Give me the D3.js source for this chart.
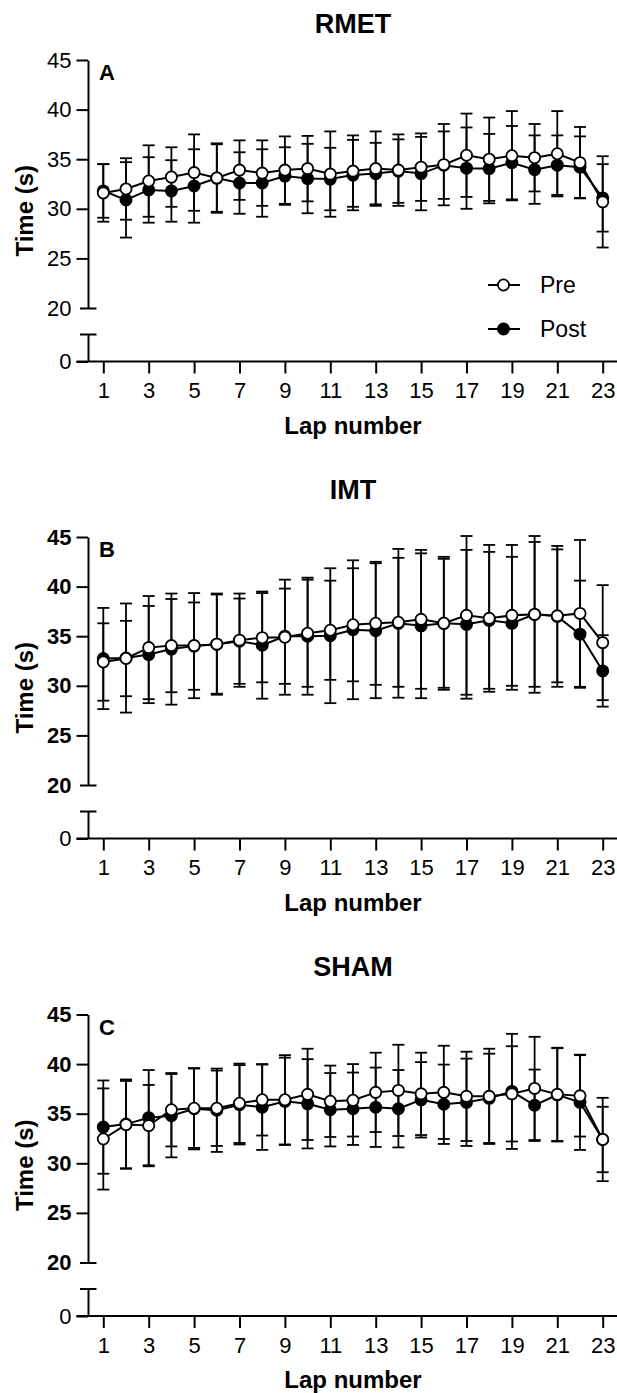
<!DOCTYPE html>
<html>
<head>
<meta charset="utf-8">
<script src="https://cdn.jsdelivr.net/npm/d3@7"></script>
<style>
  body { margin: 0; background: #fff; }
  svg { display: block; font-family: "Liberation Sans", Arial, sans-serif; }
</style>
</head>
<body>
<div id="chart"></div>
<script>
// lap numbers and x tick labels
const laps = d3.range(1, 24);
const lapTicks = [1, 3, 5, 7, 9, 11, 13, 15, 17, 19, 21, 23];
const upperTicks = [20, 25, 30, 35, 40, 45];

// RMET
const rmetPreMean  = [31.6, 32.0, 32.8, 33.2, 33.65, 33.1, 33.9, 33.6, 33.9, 34.05, 33.5, 33.8, 34.05, 33.9, 34.2, 34.45, 35.4, 35.0, 35.35, 35.15, 35.55, 34.65, 30.7];
const rmetPreSd    = [2.9, 3.1, 3.6, 3.0, 3.85, 3.5, 3.0, 3.3, 3.4, 3.3, 4.3, 3.6, 3.75, 3.6, 3.4, 4.1, 4.2, 4.2, 4.5, 3.4, 4.3, 3.6, 4.6];
const rmetPostMean = [31.8, 30.9, 31.9, 31.8, 32.3, 33.1, 32.6, 32.6, 33.3, 33.05, 33.0, 33.4, 33.55, 33.8, 33.55, 34.4, 34.1, 34.05, 34.65, 33.95, 34.4, 34.2, 31.1];
const rmetPostSd   = [2.7, 3.8, 3.3, 3.1, 3.7, 3.4, 3.1, 3.4, 2.9, 3.5, 3.15, 3.55, 3.1, 3.2, 3.7, 3.4, 4.1, 3.5, 3.7, 3.45, 3.0, 3.1, 3.4];

// IMT
const imtPreMean  = [32.4, 32.75, 33.85, 34.05, 34.05, 34.2, 34.6, 34.85, 34.9, 35.3, 35.6, 36.15, 36.3, 36.4, 36.7, 36.3, 37.1, 36.8, 37.1, 37.2, 37.05, 37.3, 34.35];
const imtPreSd    = [3.9, 3.8, 5.2, 4.7, 5.3, 5.0, 4.7, 4.5, 5.8, 5.4, 5.0, 5.7, 6.2, 6.5, 7.0, 6.5, 8.0, 7.4, 7.1, 7.3, 6.7, 7.4, 5.8];
const imtPostMean = [32.75, 32.8, 33.15, 33.7, 34.0, 34.2, 34.5, 34.1, 35.0, 35.0, 35.05, 35.65, 35.55, 36.3, 36.05, 36.3, 36.2, 36.6, 36.3, 37.2, 37.0, 35.2, 31.5];
const imtPostSd   = [5.1, 5.5, 4.9, 5.6, 4.4, 5.1, 4.3, 5.4, 4.8, 5.9, 6.8, 7.0, 6.8, 7.5, 7.3, 6.7, 7.5, 6.9, 6.7, 7.9, 7.1, 5.4, 3.6];

// SHAM
const shamPreMean  = [32.45, 33.9, 33.8, 35.4, 35.55, 35.55, 36.05, 36.4, 36.4, 36.95, 36.25, 36.35, 37.15, 37.35, 37.0, 37.15, 36.75, 36.75, 37.0, 37.55, 36.95, 36.8, 32.4];
const shamPreSd    = [5.1, 4.4, 4.1, 3.7, 4.0, 3.8, 4.0, 3.6, 4.5, 4.6, 3.6, 3.65, 4.0, 4.6, 4.15, 4.7, 4.5, 4.8, 4.8, 5.2, 4.7, 4.1, 4.2];
const shamPostMean = [33.65, 33.95, 34.6, 34.8, 35.5, 35.35, 35.9, 35.65, 36.25, 36.0, 35.4, 35.5, 35.65, 35.5, 36.4, 35.95, 36.15, 36.55, 37.25, 35.85, 36.9, 36.15, 32.4];
const shamPostSd   = [4.7, 4.5, 4.8, 4.2, 4.1, 4.2, 4.0, 4.3, 4.4, 4.5, 3.7, 3.65, 4.0, 3.9, 3.8, 4.0, 4.4, 4.5, 5.8, 3.6, 4.7, 4.8, 3.3];

const panels = [
  {title: "RMET", letter: "A", top: 60, titleY: 33, boldTicks: false, legend: true,
   pre: rmetPreMean, preSd: rmetPreSd, post: rmetPostMean, postSd: rmetPostSd},
  {title: "IMT", letter: "B", top: 537, titleY: 499, boldTicks: true, legend: false,
   pre: imtPreMean, preSd: imtPreSd, post: imtPostMean, postSd: imtPostSd},
  {title: "SHAM", letter: "C", top: 1014.5, titleY: 976, boldTicks: true, legend: false,
   pre: shamPreMean, preSd: shamPreSd, post: shamPostMean, postSd: shamPostSd}
];

const W = 617, H = 1393;
const axisX = 88;
const tickLen = 11.5;

const svg = d3.select("#chart").append("svg")
  .attr("width", W)
  .attr("height", H);

const x = d3.scaleLinear().domain([1, 23]).range([103.3, 602.7]);

panels.forEach(p => {
  const g = svg.append("g");
  const yUp = d3.scaleLinear().domain([20, 45]).range([p.top + 248, p.top]);
  const yLow = d3.scaleLinear().domain([0, 10]).range([p.top + 301.5, p.top + 274.5]);

  // title
  g.append("text")
    .attr("x", 353).attr("y", p.titleY)
    .attr("text-anchor", "middle")
    .style("font-size", "27px").style("font-weight", "bold")
    .text(p.title);

  // panel letter
  g.append("text")
    .attr("x", 99).attr("y", p.top + 20)
    .style("font-size", "22px").style("font-weight", "bold")
    .text(p.letter);

  // upper y axis
  const ya = g.append("g")
    .attr("transform", `translate(${axisX},0)`)
    .call(d3.axisLeft(yUp).tickValues(upperTicks).tickSize(tickLen).tickSizeOuter(0).tickPadding(5));
  ya.select(".domain").attr("stroke-width", 2);
  ya.selectAll(".tick line").attr("stroke-width", 2);
  ya.selectAll(".tick text")
    .style("font-size", "22px")
    .style("font-weight", p.boldTicks ? "bold" : "normal")
    .attr("fill", "#000");
  // break cap at 20
  ya.selectAll(".tick").filter(d => d === 20).select("line")
    .attr("x1", 8.5).attr("x2", -8);

  // lower y axis (0 only)
  const yb = g.append("g")
    .attr("transform", `translate(${axisX},0)`)
    .call(d3.axisLeft(yLow).tickValues([0]).tickSize(tickLen).tickSizeOuter(0).tickPadding(5));
  yb.select(".domain").attr("stroke-width", 2);
  yb.selectAll(".tick line").attr("stroke-width", 2);
  yb.selectAll(".tick text").style("font-size", "22px").attr("fill", "#000");
  g.append("line")
    .attr("x1", axisX - 8).attr("x2", axisX + 8.5)
    .attr("y1", yLow(10)).attr("y2", yLow(10))
    .attr("stroke", "#000").attr("stroke-width", 2);

  // x axis
  const xa = g.append("g")
    .attr("transform", `translate(0,${yLow(0)})`)
    .call(d3.axisBottom(x).tickValues(lapTicks).tickSize(12).tickSizeOuter(0).tickPadding(9));
  xa.select(".domain").attr("d", `M${axisX - tickLen},0H${W}`).attr("stroke-width", 2);
  xa.selectAll(".tick line").attr("stroke-width", 2);
  xa.selectAll(".tick text").style("font-size", "22px").attr("fill", "#000");

  // axis titles
  g.append("text")
    .attr("transform", `translate(33,${(yUp(45) + yLow(0)) / 2}) rotate(-90)`)
    .attr("text-anchor", "middle")
    .style("font-size", "24px").style("font-weight", "bold")
    .text("Time (s)");

  g.append("text")
    .attr("x", 353).attr("y", yLow(0) + 72)
    .attr("text-anchor", "middle")
    .style("font-size", "24px").style("font-weight", "bold")
    .text("Lap number");

  // series: Post drawn first, Pre on top
  const series = [
    {mean: p.post, sd: p.postSd, fill: "#000"},
    {mean: p.pre, sd: p.preSd, fill: "#fff"}
  ];

  series.forEach(s => {
    const pts = laps.map((l, i) => ({lap: l, m: s.mean[i], sd: s.sd[i]}));
    const eb = g.append("g").attr("stroke", "#000").attr("stroke-width", 1.8);
    eb.selectAll(".v").data(pts).enter().append("line")
      .attr("x1", d => x(d.lap)).attr("x2", d => x(d.lap))
      .attr("y1", d => yUp(d.m + d.sd)).attr("y2", d => yUp(d.m - d.sd));
    eb.selectAll(".capT").data(pts).enter().append("line")
      .attr("x1", d => x(d.lap) - 6).attr("x2", d => x(d.lap) + 6)
      .attr("y1", d => yUp(d.m + d.sd)).attr("y2", d => yUp(d.m + d.sd));
    eb.selectAll(".capB").data(pts).enter().append("line")
      .attr("x1", d => x(d.lap) - 6).attr("x2", d => x(d.lap) + 6)
      .attr("y1", d => yUp(d.m - d.sd)).attr("y2", d => yUp(d.m - d.sd));
  });

  series.forEach(s => {
    const pts = laps.map((l, i) => ({lap: l, m: s.mean[i]}));
    g.append("path")
      .datum(pts)
      .attr("fill", "none").attr("stroke", "#000").attr("stroke-width", 2)
      .attr("d", d3.line().x(d => x(d.lap)).y(d => yUp(d.m)));
    g.selectAll(null).data(pts).enter().append("circle")
      .attr("cx", d => x(d.lap)).attr("cy", d => yUp(d.m))
      .attr("r", 5.6)
      .attr("fill", s.fill).attr("stroke", "#000").attr("stroke-width", 1.8);
  });

  if (p.legend) {
    const leg = [{label: "Pre", fill: "#fff", y: 285}, {label: "Post", fill: "#000", y: 329}];
    const lg = g.selectAll(".leg").data(leg).enter().append("g");
    lg.append("line")
      .attr("x1", 488).attr("x2", 520).attr("y1", d => d.y).attr("y2", d => d.y)
      .attr("stroke", "#000").attr("stroke-width", 2);
    lg.append("circle")
      .attr("cx", 503.5).attr("cy", d => d.y).attr("r", 5.6)
      .attr("fill", d => d.fill).attr("stroke", "#000").attr("stroke-width", 1.8);
    lg.append("text")
      .attr("x", 540).attr("y", d => d.y + 8)
      .style("font-size", "23px")
      .text(d => d.label);
  }
});
</script>
</body>
</html>
